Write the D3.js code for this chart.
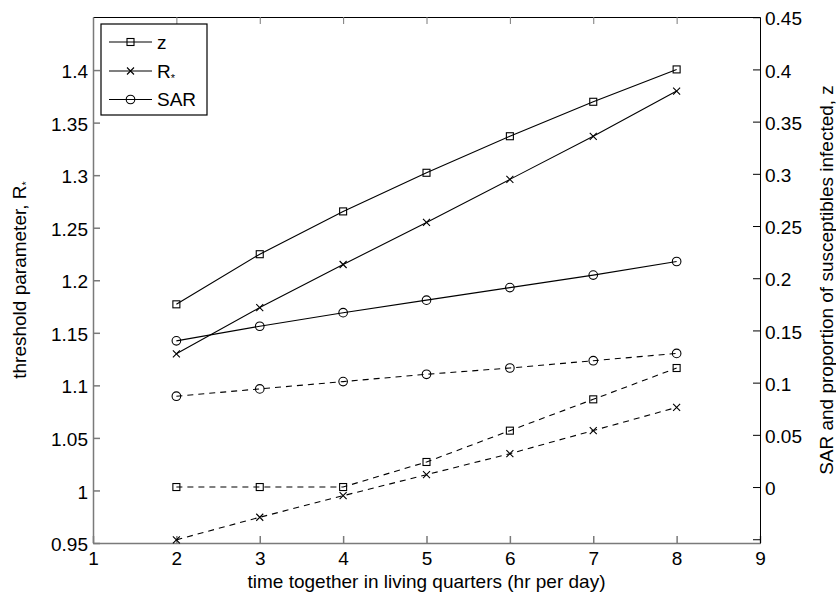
<!DOCTYPE html>
<html><head><meta charset="utf-8">
<script src="https://cdn.jsdelivr.net/npm/d3@7"></script>
<style>
body{margin:0;background:#fff;}
svg text{font-family:"Liberation Sans",Arial,Helvetica,sans-serif;}
</style></head>
<body><svg id="c" width="836" height="597"></svg>
<script>
// ---- data ----
const hours = [2,3,4,5,6,7,8];
// solid (scenario 1)
const zSolid   = [0.175,0.223,0.264,0.301,0.336,0.369,0.400];
const rSolid   = [1.130,1.174,1.215,1.255,1.296,1.337,1.380];
const sarSolid = [0.140,0.154,0.167,0.179,0.191,0.203,0.216];
// dashed (scenario 2)
const zDash    = [0.000,0.000,0.000,0.024,0.054,0.084,0.114];
const rDash    = [0.953,0.9745,0.995,1.015,1.035,1.057,1.079];
const sarDash  = [0.087,0.094,0.101,0.108,0.114,0.121,0.128];
const xTicks = [1,2,3,4,5,6,7,8,9];
const leftTicks = [0.95,1,1.05,1.1,1.15,1.2,1.25,1.3,1.35,1.4];
const rightTicks = [-0.05,0,0.05,0.1,0.15,0.2,0.25,0.3,0.35,0.4,0.45];
const legendItems = ["z","R","SAR"];

const svg = d3.select("#c");
const L=93,R=760,T=17,B=543;
const x = d3.scaleLinear().domain([1,9]).range([L,R]);
const yL = d3.scaleLinear().domain([0.95,1.4505]).range([B,T]);
const yR = d3.scaleLinear().domain([-0.0536,0.4502]).range([B,T]);
const FS = 19;
const gray = "#7a7a7a";

// axes
const fmt = d => d3.format("")(+d.toFixed(2)).replace(/^(-?)0\./,"$10.");
const gB = svg.append("g").attr("transform",`translate(0,${B})`)
  .call(d3.axisBottom(x).tickValues(xTicks).tickSizeInner(-7).tickSizeOuter(0).tickPadding(9).tickFormat(d3.format("d")));
const gT = svg.append("g").attr("transform",`translate(0,${T})`)
  .call(d3.axisTop(x).tickValues(xTicks).tickSizeInner(-7).tickSizeOuter(0).tickFormat(""));
const gL = svg.append("g").attr("transform",`translate(${L},0)`)
  .call(d3.axisLeft(yL).tickValues(leftTicks).tickSizeInner(-7).tickSizeOuter(0).tickPadding(5).tickFormat(d=>String(+d.toFixed(2))));
const gR = svg.append("g").attr("transform",`translate(${R},0)`)
  .call(d3.axisRight(yR).tickValues(rightTicks).tickSizeInner(-7).tickSizeOuter(0).tickPadding(5).tickFormat(d=> d<0? "" : String(+d.toFixed(2))));
[gB,gT,gL,gR].forEach(g=>{
  g.selectAll("text").attr("font-size",FS).attr("fill","#000").attr("font-family","Liberation Sans, Arial, sans-serif");
});
gB.selectAll("path,line").attr("stroke",gray).attr("stroke-width",1.5);
gL.selectAll("path,line").attr("stroke",gray).attr("stroke-width",1.5);
gT.selectAll("line").attr("stroke",gray);
gT.select("path").attr("stroke","#000");
gR.selectAll("path,line").attr("stroke","#000");
gR.selectAll("text").attr("dy","0.4em");
gL.selectAll("text").attr("dy","0.4em");

// series
function drawSeries(vals, yScale, dash, marker){
  const line = d3.line().x((d,i)=>x(hours[i])).y(d=>yScale(d));
  svg.append("path").datum(vals).attr("d",line).attr("fill","none")
    .attr("stroke","#000").attr("stroke-width",1.1)
    .attr("stroke-dasharray",dash?"6,5":null);
  const g = svg.append("g");
  vals.forEach((v,i)=>drawMarker(g, x(hours[i]), yScale(v), marker));
}
function drawMarker(g,cx,cy,m){
  if(m==="s"){
    g.append("rect").attr("x",cx-3.5).attr("y",cy-3.5).attr("width",7).attr("height",7)
     .attr("fill","none").attr("stroke","#000").attr("stroke-width",1.1);
  } else if(m==="x"){
    g.append("path").attr("d",`M${cx-3.5},${cy-3.5}L${cx+3.5},${cy+3.5}M${cx-3.5},${cy+3.5}L${cx+3.5},${cy-3.5}`)
     .attr("stroke","#000").attr("stroke-width",1.1);
  } else {
    g.append("circle").attr("cx",cx).attr("cy",cy).attr("r",4.3)
     .attr("fill","none").attr("stroke","#000").attr("stroke-width",1.1);
  }
}
drawSeries(zSolid, yR, false, "s");
drawSeries(rSolid, yL, false, "x");
drawSeries(sarSolid, yR, false, "o");
drawSeries(zDash, yR, true, "s");
drawSeries(rDash, yL, true, "x");
drawSeries(sarDash, yR, true, "o");

// legend
const lg = svg.append("g");
lg.append("rect").attr("x",101).attr("y",24).attr("width",106).attr("height",91)
  .attr("fill","#fff").attr("stroke","#000").attr("stroke-width",1.2);
const ly = [42,71,99.5];
const lm = ["s","x","o"];
legendItems.forEach((t,i)=>{
  lg.append("line").attr("x1",109).attr("x2",152).attr("y1",ly[i]).attr("y2",ly[i]).attr("stroke","#000").attr("stroke-width",1.1);
  drawMarker(lg,130.5,ly[i],lm[i]);
  const tx = lg.append("text").attr("x",157).attr("y",ly[i]).attr("dy","0.36em").attr("font-size",FS);
  tx.append("tspan").text(t);
  if(t==="R") tx.append("tspan").attr("font-size",11).attr("dy","0.35em").text("*");
});

// axis titles
svg.append("text").attr("x",(L+R)/2).attr("y",588).attr("text-anchor","middle").attr("font-size",FS)
  .text("time together in living quarters (hr per day)");
const lt = svg.append("text").attr("transform",`translate(26,${(T+B)/2}) rotate(-90)`).attr("text-anchor","middle").attr("font-size",FS);
lt.append("tspan").text("threshold parameter, R");
lt.append("tspan").attr("font-size",11).attr("dy","0.35em").text("*");
svg.append("text").attr("transform",`translate(833,${(T+B)/2}) rotate(-90)`).attr("text-anchor","middle").attr("font-size",FS)
  .text("SAR and proportion of susceptibles infected, z");
</script></body></html>
